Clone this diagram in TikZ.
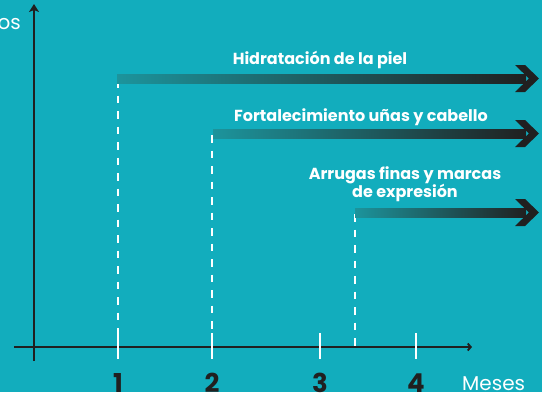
\documentclass[tikz,border=0pt]{standalone}
\usepackage{fontspec}
\setmainfont{Poppins}
\usetikzlibrary{arrows.meta}
\definecolor{bg}{RGB}{18,173,189}
\definecolor{ink}{RGB}{32,32,32}
\definecolor{shaftstart}{RGB}{28,148,156}
\tikzset{
  yaxis/.style={ink, line width=2.6pt},
  xaxis/.style={ink, line width=1.9pt},
  tickmark/.style={white, line width=2.4pt},
  guide/.style={white, line width=1.3pt, dash pattern=on 7.5pt off 8pt},
  lbl/.style={text=white, font=\fontsize{16}{18}\selectfont\bfseries, align=center, inner sep=0pt},
  num/.style={text=ink, font=\fontsize{26}{28}\selectfont\bfseries, anchor=base, inner sep=0pt},
  unit/.style={text=white, font=\fontsize{20}{22}\selectfont, inner sep=0pt},
  headfill/.style={fill=ink},
}
\begin{document}
\begin{tikzpicture}[x=1pt,y=-1pt]
\useasboundingbox (0,0) rectangle (542,392);
\fill[bg] (0,0) rectangle (542,392);

% axes
\coordinate (yb) at (34,361);
\coordinate (yt) at (34,4);
\coordinate (xl) at (14,347);
\coordinate (xr) at (472,347);
\draw[yaxis,-{Stealth[length=8pt,width=10pt,inset=2pt]}] (yb) -- (yt);
\draw[xaxis,-{Straight Barb[length=3pt,width=7pt]}] (xl) -- (xr);

% ticks
\foreach \n/\x in {1/118,2/212,3/320,4/416}{
  \coordinate (t\n a) at (\x,333);
  \coordinate (t\n b) at (\x,359);
  \draw[tickmark] (t\n a) -- (t\n b);
  \node[num] (n\n) at (\x,392) {\n};
}
\node[unit, anchor=base west] (meses) at (462,390) {Meses};
\node[unit, anchor=base east] (ejey) at (21,29) {os};

% dashed guides
\coordinate (g1a) at (118,80);  \coordinate (g1b) at (118,333);
\coordinate (g2a) at (212,135); \coordinate (g2b) at (212,333);
\coordinate (g3a) at (355,214); \coordinate (g3b) at (355,347);
\draw[guide] (g1a) -- (g1b);
\draw[guide] (g2a) -- (g2b);
\draw[guide] (g3a) -- (g3b);

% gradient arrows
\foreach \i/\sx/\cy in {1/117/78.5,2/213/133.5,3/355/212.5}{
  \shade[left color=shaftstart, right color=ink] (\sx,\cy-4.5) rectangle (526,\cy+4.5);
  \fill[headfill] (515,\cy-13.5) -- (525,\cy-13.5) -- (539,\cy) -- (525,\cy+13.5) -- (515,\cy+13.5) -- (529,\cy) -- cycle;
}

% labels
\node[lbl] (l1) at (320,59.5) {Hidratación de la piel};
\node[lbl] (l2) at (361,117.5) {Fortalecimiento uñas y cabello};
\node[lbl] (l3) at (405,184) {Arrugas finas y marcas\\de expresión};
\end{tikzpicture}
\end{document}
